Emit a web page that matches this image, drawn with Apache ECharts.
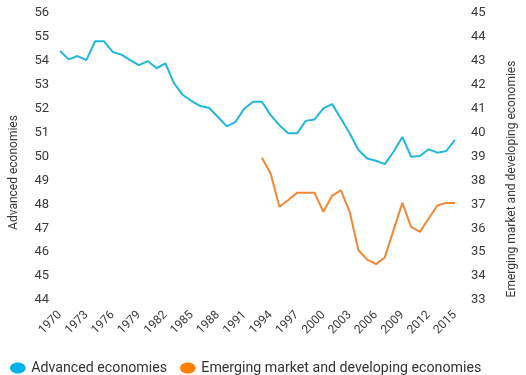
<!DOCTYPE html>
<html>
<head>
<meta charset="utf-8">
<script src="https://cdn.jsdelivr.net/npm/echarts@6/dist/echarts.min.js"></script>
<style>
  html, body { margin: 0; padding: 0; background: #fff; }
  #chart { width: 526px; height: 375px; }
</style>
</head>
<body>
<div id="chart"></div>
<script>
const years = []
for (let y = 1970; y <= 2015; y++) years.push(String(y))

// Advanced economies (left axis), 1970-2015
const advanced = [
  54.41, 54.06, 54.2, 54.03, 54.82, 54.82, 54.37, 54.26, 54.03, 53.82,
  53.99, 53.69, 53.89, 53.06, 52.57, 52.32, 52.11, 52.03, 51.65, 51.26,
  51.45, 52.01, 52.29, 52.29, 51.73, 51.31, 50.97, 50.97, 51.49, 51.55,
  52.01, 52.19, 51.59, 50.97, 50.27, 49.92, 49.82, 49.68, 50.2, 50.82,
  49.99, 50.02, 50.3, 50.16, 50.23, 50.69
]

// Emerging market and developing economies (right axis), data from 1993
const emerging = [
  null, null, null, null, null, null, null, null, null, null,
  null, null, null, null, null, null, null, null, null, null,
  null, null, null, 38.95, 38.29, 36.9, 37.18, 37.48, 37.48, 37.48,
  36.69, 37.36, 37.58, 36.69, 35.08, 34.69, 34.5, 34.78, 35.92, 37.06,
  36.06, 35.85, 36.41, 36.95, 37.06, 37.06
]

const labelColor = '#3a3a3a'
const font = 'Roboto, "Noto Sans", sans-serif'
// flat ellipse like the original legend markers
const ellipseIcon = 'path://M0,6 C0,2.686 3.806,0 8.5,0 C13.194,0 17,2.686 17,6 C17,9.314 13.194,12 8.5,12 C3.806,12 0,9.314 0,6 Z'

const chart = echarts.init(document.getElementById('chart'))

chart.setOption({
  animation: false,
  grid: { left: 51, right: 67, top: 13, bottom: 75 },
  legend: {
    left: 5,
    top: 356,
    itemWidth: 17,
    itemHeight: 11,
    itemGap: 13,
    icon: ellipseIcon,
    textStyle: { color: '#333', fontSize: 14.2, fontFamily: font },
    data: [
      { name: 'Advanced economies', itemStyle: { color: '#00b0e8' } },
      { name: 'Emerging market and developing economies', itemStyle: { color: '#ff7f00' } }
    ]
  },
  xAxis: {
    type: 'category',
    data: years,
    boundaryGap: false,
    axisLine: { show: false },
    axisTick: { show: false },
    axisLabel: {
      interval: 2,
      rotate: 45,
      margin: 13,
      color: labelColor,
      fontSize: 12,
      fontFamily: font
    }
  },
  yAxis: [
    {
      type: 'value',
      min: 44,
      max: 56,
      interval: 1,
      name: 'Advanced economies',
      nameLocation: 'middle',
      nameGap: 40,
      nameTextStyle: { color: labelColor, fontSize: 12, fontFamily: font, padding: [0, 0, 0, -32] },
      axisLine: { show: false },
      axisTick: { show: false },
      splitLine: { show: false },
      axisLabel: { color: labelColor, fontSize: 13, fontFamily: font, margin: 11 }
    },
    {
      type: 'value',
      min: 33,
      max: 45,
      interval: 1,
      name: 'Emerging market and developing economies',
      nameLocation: 'middle',
      nameGap: 51,
      nameRotate: 90,
      nameTextStyle: { color: labelColor, fontSize: 12, fontFamily: font, padding: [0, 0, 0, -45] },
      axisLine: { show: false },
      axisTick: { show: false },
      splitLine: { show: false },
      axisLabel: { color: labelColor, fontSize: 13, fontFamily: font, margin: 16 }
    }
  ],
  series: [
    {
      name: 'Advanced economies',
      type: 'line',
      yAxisIndex: 0,
      data: advanced,
      showSymbol: false,
      lineStyle: { color: '#20b8d8', width: 2 },
      itemStyle: { color: '#00b0e8' }
    },
    {
      name: 'Emerging market and developing economies',
      type: 'line',
      yAxisIndex: 1,
      data: emerging,
      showSymbol: false,
      lineStyle: { color: '#f0883a', width: 2 },
      itemStyle: { color: '#ff7f00' }
    }
  ]
})
</script>
</body>
</html>
